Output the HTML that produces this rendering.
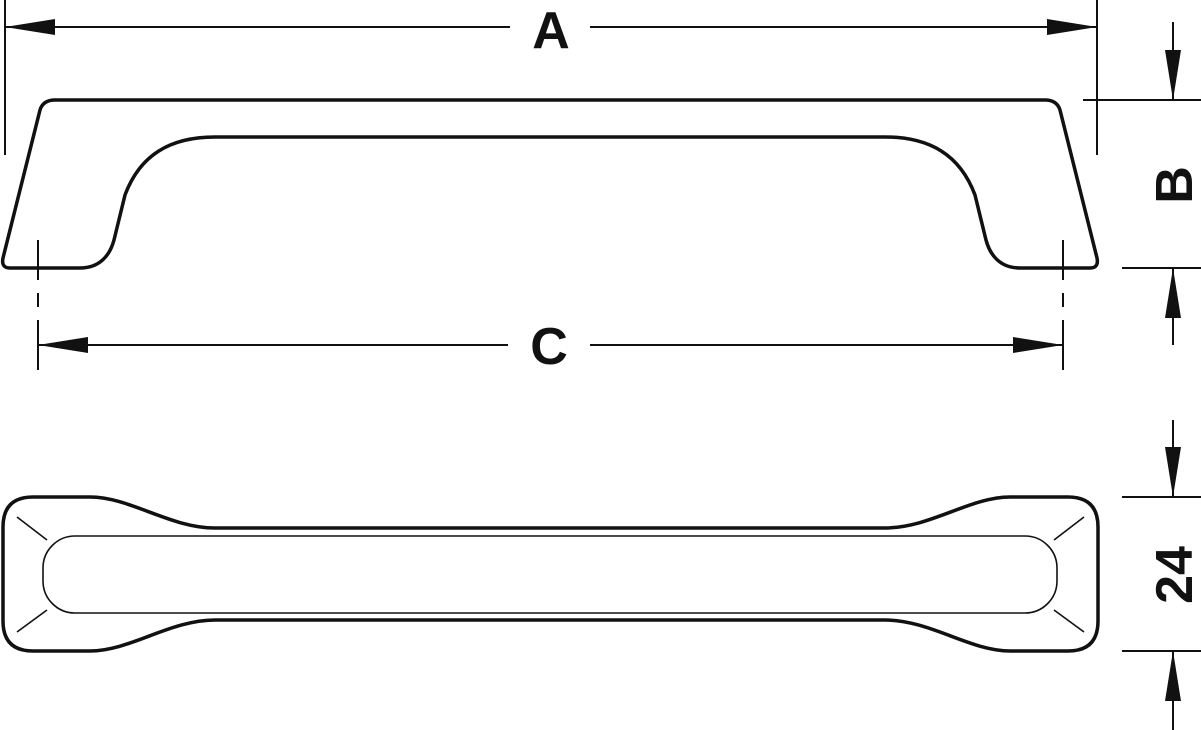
<!DOCTYPE html>
<html><head><meta charset="utf-8"><style>html,body{margin:0;padding:0;background:#fff}svg{display:block}</style></head>
<body>
<svg width="1201" height="730" viewBox="0 0 1201 730" xmlns="http://www.w3.org/2000/svg">
<defs>
<marker id="ar" viewBox="0 0 50 16" refX="50" refY="8" markerWidth="50" markerHeight="16" markerUnits="userSpaceOnUse" orient="auto"><path d="M0,0 L50,8 L0,16 Z" fill="#111"/></marker>
</defs>
<g fill="none" stroke="#111" stroke-width="3.5" stroke-linejoin="round">
<path d="M55,100 L1045,100 Q1057,100 1060,110 L1097,258 Q1099,268 1090,268 L1020,268 C1000,268 990,255 986,240 L975,195 C960,155 930,137 885,137 L215,137 C170,137 140,155 125,195 L114,240 C110,255 100,268 80,268 L10,268 Q1,268 3,258 L40,110 Q43,100 55,100 Z"/>
<path d="M90,497 C130,497 170,528 215,528 L885,528 C930,528 970,497 1010,497 L1068,497 Q1098,497 1098,527 L1098,621 Q1098,651 1068,651 L1010,651 C970,651 930,620 885,620 L215,620 C170,620 130,651 90,651 L33,651 Q3,651 3,621 L3,527 Q3,497 33,497 Z"/>
</g>
<g fill="none" stroke="#111" stroke-width="1.6">
<rect x="43" y="536" width="1014" height="77" rx="32" ry="32"/>
<path d="M17,517 L47,540 M17,632 L47,610 M1084,517 L1054,540 M1084,632 L1054,610"/>
</g>
<g stroke="#111" stroke-width="2" fill="none">
<path d="M5,0 V155 M1097,0 V155"/>
<line x1="510" y1="27" x2="5" y2="27" marker-end="url(#ar)"/>
<line x1="590" y1="27" x2="1097" y2="27" marker-end="url(#ar)"/>
<path d="M38,240 V280 M38,293 V307 M38,320 V370 M1063,240 V280 M1063,293 V307 M1063,320 V370"/>
<line x1="508" y1="345" x2="38" y2="345" marker-end="url(#ar)"/>
<line x1="590" y1="345" x2="1063" y2="345" marker-end="url(#ar)"/>
<path d="M1083,100 H1201 M1122,268 H1201"/>
<line x1="1173" y1="22" x2="1173" y2="100" marker-end="url(#ar)"/>
<line x1="1173" y1="345" x2="1173" y2="268" marker-end="url(#ar)"/>
<path d="M1122,497 H1201 M1122,651 H1201"/>
<line x1="1173" y1="420" x2="1173" y2="497" marker-end="url(#ar)"/>
<line x1="1173" y1="730" x2="1173" y2="651" marker-end="url(#ar)"/>
</g>
<g font-family="Liberation Sans, sans-serif" font-weight="bold" font-size="52" fill="#111" text-anchor="middle">
<text x="551" y="48">A</text>
<text x="549" y="364">C</text>
<text transform="translate(1192,185) rotate(-90)">B</text>
<text transform="translate(1192,575) rotate(-90)">24</text>
</g>
</svg>
</body></html>
